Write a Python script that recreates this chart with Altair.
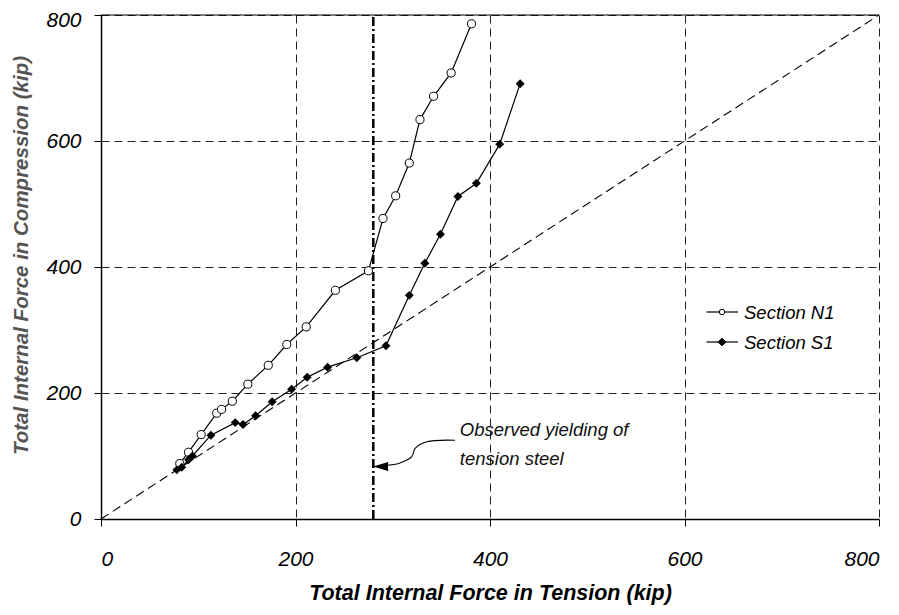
import altair as alt
import pandas as pd

# ---- data ----
n1_x = [81, 90, 103, 119, 124, 135, 151, 172, 191, 211, 241, 275, 290, 303, 317, 328, 342, 360, 381]
n1_y = [88, 106, 134, 168, 174, 187, 214, 244, 277, 305, 363, 394, 477, 513, 565, 634, 671, 708, 786]

s1_x = [78, 83, 90, 94, 113, 138, 146, 159, 176, 196, 212, 233, 263, 293, 317, 333, 349, 367, 386, 410, 431]
s1_y = [78, 82, 94, 100, 133, 153, 150, 164, 186, 206, 225, 241, 256, 275, 355, 406, 452, 512, 533, 595, 691]

diag_x = [0, 800]
diag_y = [0, 800]

yield_x = [280]
axis_max = [800]

arrow_x = [364, 335, 323, 319.5, 307.5, 295.5]
arrow_y = [125, 122.5, 112, 99, 89, 85.5]
arrow_head_x = [287.5]
arrow_head_y = [83.5]

ann_text = ["Observed yielding of", "tension steel"]
ann_x = [369, 369]
ann_y = [141, 96]

ticks = [0, 200, 400, 600, 800]
x_title = "Total Internal Force in Tension (kip)"
y_title = "Total Internal Force in Compression (kip)"

FONT = "Liberation Sans"

xscale = alt.Scale(domain=[0, 800], nice=False, zero=False)
yscale = alt.Scale(domain=[0, 800], nice=False, zero=False)

xaxis = alt.Axis(values=ticks, title=x_title, labelPadding=22, tickSize=7,
                 titlePadding=13, grid=True, titleFontSize=21.5)
yaxis = alt.Axis(values=ticks, title=y_title, labelPadding=13, tickSize=7,
                 grid=True, titleX=-80, titleY=240, titleAngle=270,
                 titleAlign="center", titleBaseline="middle", titleColor="#555555",
                 titleFontSize=20.5,
                 labelOffset={"condition": {"test": "datum.value == 800", "value": 5}, "value": 0})


def X(field):
    return alt.X(field, type="quantitative", scale=xscale, axis=xaxis)


def Y(field):
    return alt.Y(field, type="quantitative", scale=yscale, axis=yaxis)


n1 = pd.DataFrame({"x": n1_x, "y": n1_y, "i": range(len(n1_x))})
s1 = pd.DataFrame({"x": s1_x, "y": s1_y, "i": range(len(s1_x))})
diag = pd.DataFrame({"x": diag_x, "y": diag_y})
yl = pd.DataFrame({"x": yield_x, "y0": [0], "y1": axis_max})
top = pd.DataFrame({"x0": [0], "x1": axis_max, "y": axis_max})
arrow = pd.DataFrame({"x": arrow_x, "y": arrow_y, "i": range(len(arrow_x))})
head = pd.DataFrame({"x": arrow_head_x, "y": arrow_head_y})
ann = pd.DataFrame({"x": ann_x, "y": ann_y, "t": ann_text})
one = pd.DataFrame({"k": [0]})

diag_layer = alt.Chart(diag).mark_line(color="black", strokeWidth=1.1, strokeDash=[9, 5]).encode(
    x=X("x"), y=Y("y"))

yield_layer = alt.Chart(yl).mark_rule(color="black", strokeWidth=2.5, strokeDash=[9, 3, 2, 3]).encode(
    x=X("x"), y=Y("y0"), y2="y1")

top_layer = alt.Chart(top).mark_rule(color="black", strokeWidth=1).encode(
    x=X("x0"), x2="x1", y=Y("y"))

n1_line = alt.Chart(n1).mark_line(color="black", strokeWidth=1.2).encode(
    x=X("x"), y=Y("y"), order="i")
n1_pts = alt.Chart(n1).mark_point(shape="circle", size=66, filled=True, fill="white",
                                  stroke="black", strokeWidth=1, opacity=1).encode(
    x=X("x"), y=Y("y"))

s1_line = alt.Chart(s1).mark_line(color="black", strokeWidth=1.2).encode(
    x=X("x"), y=Y("y"), order="i")
s1_pts = alt.Chart(s1).mark_point(shape="diamond", size=80, filled=True, fill="black",
                                  opacity=1).encode(
    x=X("x"), y=Y("y"))

arrow_layer = alt.Chart(arrow).mark_line(color="black", strokeWidth=1.1,
                                         interpolate="catmull-rom").encode(
    x=X("x"), y=Y("y"), order="i")
head_layer = alt.Chart(head).mark_point(shape="M-1,0L1,-0.6L1,0.6Z", size=225, filled=True,
                                        fill="black", opacity=1).encode(
    x=X("x"), y=Y("y"))

ann_layer = alt.Chart(ann).mark_text(align="left", baseline="middle", font=FONT,
                                     fontStyle="italic", fontSize=18.5, color="#111111").encode(
    x=X("x"), y=Y("y"), text="t")

# legend (drawn manually)
leg = []
for name, ly, shape, fill, size in [("Section N1", 297, "circle", "white", 30),
                                    ("Section S1", 327, "diamond", "black", 60)]:
    leg.append(alt.Chart(one).mark_rule(color="black", strokeWidth=1.2).encode(
        x=alt.value(605.5), x2=alt.value(637), y=alt.value(ly)))
    leg.append(alt.Chart(one).mark_point(shape=shape, size=size, filled=True, fill=fill,
                                         stroke="black", strokeWidth=1, opacity=1).encode(
        x=alt.value(621), y=alt.value(ly)))
    leg.append(alt.Chart(one).mark_text(align="left", baseline="middle", font=FONT,
                                        fontStyle="italic", fontSize=18.5, color="black",
                                        text=name).encode(
        x=alt.value(643), y=alt.value(ly + 1)))

chart = alt.layer(
    n1_line, diag_layer, yield_layer, top_layer, s1_line, n1_pts, s1_pts,
    arrow_layer, head_layer, ann_layer, *leg
).properties(
    width=778, height=504,
    autosize=alt.AutoSizeParams(type="none"),
    padding={"left": 93, "top": 7, "right": 12, "bottom": 90},
    background="white",
).configure_view(stroke=None).configure_axis(
    domainColor="black", domainWidth=1.5, tickColor="black", tickWidth=1,
    labelFont=FONT, labelFontStyle="italic", labelFontSize=21, labelColor="black",
    titleFont=FONT, titleFontStyle="italic", titleFontWeight="bold", titleFontSize=20,
    titleColor="black", gridColor="#222222", gridDash=[8, 5], gridWidth=1,
)

chart.save("out.html", embed_options={"renderer": "svg", "actions": False})
